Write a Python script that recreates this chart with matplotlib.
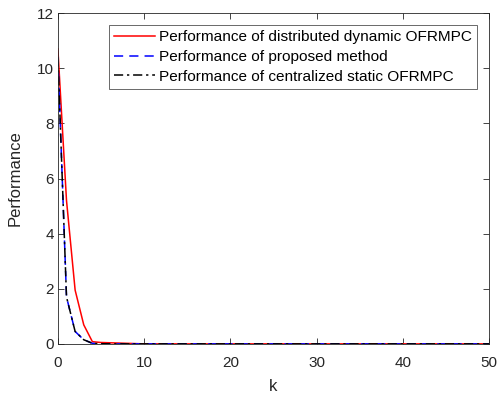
import matplotlib
matplotlib.use("Agg")
import matplotlib.pyplot as plt
import numpy as np

plt.rcParams['font.family'] = ['Liberation Sans', 'DejaVu Sans']

k = np.arange(0, 51)
red_head = [10.7, 5.2, 1.95, 0.69, 0.08, 0.05, 0.04, 0.03, 0.02, 0.01]
blue_head = [10.4, 1.7, 0.45, 0.15, 0.02, 0.005]
black_head = [10.4, 1.7, 0.45, 0.15, 0.02, 0.005]
red = np.array(red_head + [0.0] * (51 - len(red_head)))
blue = np.array(blue_head + [0.0] * (51 - len(blue_head)))
black = np.array(black_head + [0.0] * (51 - len(black_head)))

labels = ['Performance of distributed dynamic OFRMPC',
          'Performance of proposed method',
          'Performance of centralized static OFRMPC']

fig = plt.figure(figsize=(4.99, 3.98), dpi=100)
ax = fig.add_axes([0.116, 0.136, 0.864, 0.831])
ax.plot(k, red, color='#ff0000', lw=1.1, ls='-', label=labels[0])
ax.plot(k, blue, color='#0000ff', lw=1.1, ls=(0, (6, 4)), label=labels[1])
ax.plot(k, black, color='black', lw=1.1, ls=(0, (6, 2.5, 1.5, 2.5)), label=labels[2])

ax.set_xlim(0, 50)
ax.set_ylim(0, 12)
ax.set_xticks([0, 10, 20, 30, 40, 50])
ax.set_yticks([0, 2, 4, 6, 8, 10, 12])
ax.tick_params(direction='in', top=True, right=True, length=4, width=0.6,
               labelsize=11, colors='#262626', labelcolor='#262626')
ax.tick_params(axis='x', pad=9)
ax.tick_params(axis='y', pad=3)
for s in ax.spines.values():
    s.set_color('#262626')
    s.set_linewidth(0.6)
ax.set_xlabel('k', fontsize=12, color='#262626', labelpad=6)
ax.set_ylabel('Performance', fontsize=12, color='#262626', labelpad=10)

leg = ax.legend(loc='upper right', fontsize=11.1, frameon=True, fancybox=False,
                edgecolor='#262626', borderaxespad=0.75, handlelength=2.6,
                handletextpad=0.3, labelspacing=0.38, borderpad=0.35)
leg.get_frame().set_linewidth(0.6)

fig.savefig('out.png', dpi=100)
